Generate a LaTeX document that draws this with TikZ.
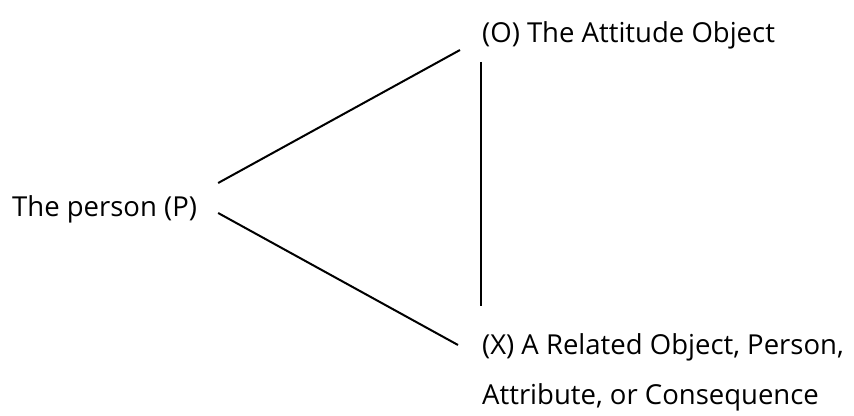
\documentclass[tikz,border=0pt]{standalone}
\usepackage{fontspec}
\setmainfont{Open Sans}
\usepackage{tikz}

\begin{document}
\begin{tikzpicture}[x=1pt,y=1pt,
    lbl/.style={inner sep=0pt,anchor=base west,align=left,
      font=\fontsize{27.5}{50}\selectfont},
    tie/.style={line width=2pt}]
    \useasboundingbox (0,0) rectangle (854,415);
    \node[lbl] (P) at (12,198) {The person (P)};
    \node[lbl] (O) at (482,372) {(O) The Attitude Object};
    \node[lbl] (X) at (482,10) {(X) A Related Object, Person,\\Attribute, or Consequence};
    \draw[tie] ([xshift=21pt,yshift=34pt]P.base east) -- ([xshift=-22pt,yshift=-7pt]O.base west);
    \draw[tie] ([xshift=21pt,yshift=4pt]P.base east) -- ([xshift=-24pt,yshift=60pt]X.base west);
    \draw[tie] ([xshift=-1pt,yshift=-19pt]O.base west) -- ([xshift=-1pt,yshift=99pt]X.base west);
\end{tikzpicture}
\end{document}
